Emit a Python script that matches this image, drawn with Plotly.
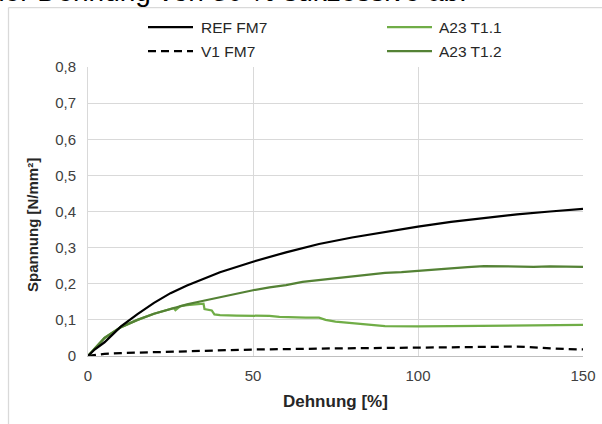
import plotly.graph_objects as go

# ---- data ----
ref_x = [0, 2, 5, 10, 15, 20, 25, 30, 40, 50, 60, 70, 80, 90, 100, 110, 120, 130, 140, 150]
ref_y = [0, 0.018, 0.038, 0.082, 0.116, 0.147, 0.174, 0.195, 0.232, 0.261, 0.287, 0.310, 0.328,
         0.344, 0.358, 0.371, 0.382, 0.392, 0.400, 0.407]

v1_x = [0, 2, 5, 10, 25, 50, 75, 100, 115, 125, 130, 135, 140, 145, 150]
v1_y = [0, 0.003, 0.006, 0.008, 0.012, 0.018, 0.021, 0.024, 0.025, 0.026, 0.026, 0.024, 0.021, 0.019, 0.018]

t11_x = [0, 2, 5, 10, 15, 20, 25, 26, 26.5, 28, 30, 33, 35, 35.3, 36.5, 37.5, 38.3, 40, 45, 50, 55,
         58, 62, 66, 70, 72, 75, 80, 85, 90, 95, 100, 110, 120, 130, 140, 150]
t11_y = [0, 0.02, 0.05, 0.08, 0.1, 0.117, 0.13, 0.133, 0.127, 0.138, 0.141, 0.143, 0.145, 0.13, 0.128,
         0.126, 0.115, 0.113, 0.112, 0.111, 0.111, 0.108, 0.106, 0.106, 0.106, 0.1, 0.095, 0.092, 0.087,
         0.083, 0.082, 0.082, 0.083, 0.084, 0.086, 0.087, 0.086]

t12_x = [0, 2, 5, 10, 15, 20, 25, 30, 35, 40, 45, 50, 55, 60, 65, 70, 75, 80, 85, 90, 95, 100,
         105, 110, 115, 120, 125, 130, 135, 140, 145, 150]
t12_y = [0, 0.02, 0.05, 0.08, 0.1, 0.117, 0.131, 0.143, 0.153, 0.163, 0.173, 0.182, 0.19, 0.196,
         0.205, 0.21, 0.214, 0.22, 0.224, 0.23, 0.232, 0.236, 0.24, 0.243, 0.246, 0.249, 0.248, 0.249,
         0.247, 0.248, 0.248, 0.247]

x_ticks = [0, 50, 100, 150]
y_ticks = [0, 0.1, 0.2, 0.3, 0.4, 0.5, 0.6, 0.7, 0.8]

series_names = ["REF FM7", "V1 FM7", "A23 T1.1", "A23 T1.2"]
series_colors = ["#000000", "#000000", "#70AD47", "#548235"]
series_dash = ["solid", "8px,5px", "solid", "solid"]

FONT = "Arial, Liberation Sans, sans-serif"
W, H = 602, 424
L, R, T, B = 88, 19, 67, 68
PW, PH = W - L - R, H - T - B


def px_x(p):
    return (p - L) / PW


def px_y(p):
    return (H - B - p) / PH


data = {
    "REF FM7": (ref_x, ref_y),
    "V1 FM7": (v1_x, v1_y),
    "A23 T1.1": (t11_x, t11_y),
    "A23 T1.2": (t12_x, t12_y),
}

fig = go.Figure()
# drawing order: dashed first, then greens, black reference on top
for name in ["V1 FM7", "A23 T1.1", "A23 T1.2", "REF FM7"]:
    i = series_names.index(name)
    xs, ys = data[name]
    fig.add_trace(go.Scatter(x=xs, y=ys, mode="lines", name=name, showlegend=False,
                             line=dict(color=series_colors[i], width=2.25, dash=series_dash[i])))

fig.update_layout(
    width=W, height=H,
    margin=dict(l=L, r=R, t=T, b=B, autoexpand=False),
    paper_bgcolor="white", plot_bgcolor="white",
    separators=",.",
    font=dict(family=FONT, size=15, color="#404040"),
    showlegend=False,
    xaxis=dict(range=[0, 150], tickvals=x_ticks, showgrid=True, gridcolor="#d9d9d9", gridwidth=1,
               zeroline=False, showline=True, linecolor="#bfbfbf", linewidth=1,
               ticks="", ticklabelstandoff=6, tickfont=dict(size=15, color="#404040"),
               fixedrange=True),
    yaxis=dict(range=[0, 0.8], tickvals=y_ticks, showgrid=True, gridcolor="#d9d9d9", gridwidth=1,
               zeroline=False, showline=True, linecolor="#d9d9d9", linewidth=1,
               ticks="", ticklabelstandoff=8, tickfont=dict(size=15, color="#404040"),
               fixedrange=True),
)

# legend (two columns, drawn as samples + real text)
leg_pos = {
    "REF FM7": (148, 193, 199, 27),
    "V1 FM7": (148, 193, 199, 51),
    "A23 T1.1": (387, 432, 437, 27),
    "A23 T1.2": (387, 432, 437, 51),
}
for i, name in enumerate(series_names):
    x0, x1, tx, yy = leg_pos[name]
    fig.add_shape(type="line", xref="paper", yref="paper", x0=px_x(x0), x1=px_x(x1),
                  y0=px_y(yy), y1=px_y(yy),
                  line=dict(color=series_colors[i], width=2.25, dash=series_dash[i]))
    fig.add_annotation(text=name, xref="paper", yref="paper", x=px_x(tx), y=px_y(yy),
                       xanchor="left", yanchor="middle", showarrow=False,
                       font=dict(size=15.5, color="#262626", family=FONT))

# axis titles
fig.add_annotation(text="<b>Dehnung [%]</b>", xref="paper", yref="paper",
                   x=px_x(335.5), y=px_y(401.5), xanchor="center", yanchor="middle",
                   showarrow=False, font=dict(size=17, color="#262626", family=FONT))
fig.add_annotation(text="<b>Spannung [N/mm²]</b>", xref="paper", yref="paper",
                   x=px_x(33), y=px_y(225), xanchor="center", yanchor="middle", textangle=-90,
                   showarrow=False, font=dict(size=15, color="#262626", family=FONT))

# cut-off document text above the chart
fig.add_annotation(text="ner Dehnung von 30 % sukzessive ab.", xref="paper", yref="paper",
                   x=px_x(-13), y=px_y(9.5), xanchor="left", yanchor="bottom",
                   showarrow=False, font=dict(size=28, color="#000000", family=FONT))

# chart frame (top and left edges visible)
fig.add_shape(type="line", xref="paper", yref="paper", x0=px_x(8.5), x1=px_x(640),
              y0=px_y(7.5), y1=px_y(7.5), line=dict(color="#d9d9d9", width=1.25))
fig.add_shape(type="line", xref="paper", yref="paper", x0=px_x(8.5), x1=px_x(8.5),
              y0=px_y(7.5), y1=px_y(460), line=dict(color="#d9d9d9", width=1.25))

fig.write_html("out.html", config={"displayModeBar": False},
               post_script="document.body.style.margin='0';document.body.style.overflow='hidden';")
